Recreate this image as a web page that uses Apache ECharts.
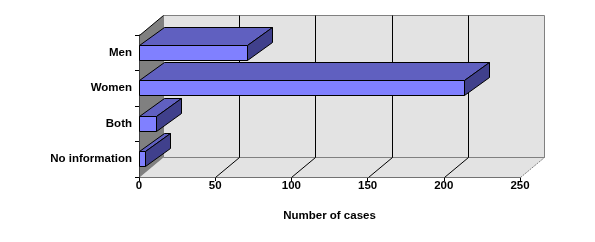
<!DOCTYPE html>
<html><head><meta charset="utf-8">
<script src="https://cdn.jsdelivr.net/npm/echarts@6/dist/echarts.min.js"></script>
<style>html,body{margin:0;padding:0;background:#fff}#c{width:595px;height:242px}</style>
</head><body><div id="c"></div>
<script>
const categories = ['Men', 'Women', 'Both', 'No information'];
const cases = [71, 213, 11, 4];
const xTicks = [0, 50, 100, 150, 200, 250];
const axisTitle = 'Number of cases';

const WALL_DX = 24, WALL_DY = -20;   // depth of the 3D box (px)
const BAR_DX = 25, BAR_DY = -18;     // depth of each bar (px)
const P = v => Math.round(v) + 0.5;
const font = 'Liberation Sans, Arial, sans-serif';
const FS = 11.5;

const chart = echarts.init(document.getElementById('c'), null, {renderer: 'canvas'});
chart.setOption({
  animation: false,
  backgroundColor: '#fff',
  grid: {left: 139, right: 75, top: 35, bottom: 65},
  xAxis: {
    type: 'value', min: xTicks[0], max: xTicks[xTicks.length - 1], interval: 50,
    splitLine: {show: false},
    axisLine: {show: true, lineStyle: {color: '#000', width: 1}},
    axisTick: {show: true, length: 4, lineStyle: {color: '#000'}},
    axisLabel: {color: '#000', fontFamily: font, fontWeight: 'bold', fontSize: FS, margin: 3},
    name: axisTitle, nameLocation: 'middle', nameGap: 33,
    nameTextStyle: {color: '#000', fontFamily: font, fontWeight: 'bold', fontSize: FS}
  },
  yAxis: {
    type: 'category', data: categories, inverse: true,
    axisLine: {show: true, lineStyle: {color: '#000', width: 1}},
    axisTick: {show: true, length: 4, lineStyle: {color: '#000'}},
    axisLabel: {color: '#000', fontFamily: font, fontWeight: 'bold', fontSize: FS, margin: 7},
    splitLine: {show: false}
  },
  series: [
    { // walls and floor
      type: 'custom', z: 1, silent: true,
      data: [[xTicks[0], 0]],
      renderItem: function (params, api) {
        const cs = params.coordSys;
        const x = P(cs.x), y = P(cs.y), w = Math.round(cs.width), h = Math.round(cs.height);
        const b = y + h;
        return {type: 'group', children: [
          {type: 'rect', shape: {x: x + WALL_DX, y: y + WALL_DY, width: w, height: h},
           style: {fill: '#e3e3e3', stroke: '#808080', lineWidth: 1}},
          {type: 'polygon', shape: {points: [[x, b], [x + WALL_DX, b + WALL_DY], [x + w + WALL_DX, b + WALL_DY], [x + w, b]]},
           style: {fill: '#e3e3e3', stroke: null}},
          {type: 'line', shape: {x1: x + WALL_DX, y1: b + WALL_DY, x2: x + w + WALL_DX, y2: b + WALL_DY},
           style: {stroke: '#808080', lineWidth: 1}},
          {type: 'line', shape: {x1: x + w, y1: b, x2: x + w + WALL_DX, y2: b + WALL_DY},
           style: {stroke: '#808080', lineWidth: 1, lineDash: [2, 1]}},
          {type: 'polygon', shape: {points: [[x, y], [x + WALL_DX, y + WALL_DY], [x + WALL_DX, b + WALL_DY], [x, b]]},
           style: {fill: '#808080', stroke: null}},
          {type: 'line', shape: {x1: x, y1: y, x2: x + WALL_DX, y2: y + WALL_DY},
           style: {stroke: '#000', lineWidth: 1}}
        ]};
      }
    },
    { // grid lines on floor and back wall
      type: 'custom', z: 2, silent: true,
      data: xTicks.slice(1, -1).map(v => [v, 0]),
      renderItem: function (params, api) {
        const cs = params.coordSys;
        const px = P(api.coord([api.value(0), 0])[0]);
        const top = P(cs.y), b = top + Math.round(cs.height);
        return {type: 'polyline', shape: {points: [[px, b], [px + WALL_DX, b + WALL_DY], [px + WALL_DX, top + WALL_DY]]},
                style: {stroke: '#000', lineWidth: 1, fill: null}};
      }
    },
    { // 3D bars
      type: 'custom', z: 3,
      encode: {x: 0, y: 1},
      data: cases.map((v, i) => [v, i]),
      renderItem: function (params, api) {
        const idx = api.value(1);
        const p0 = api.coord([0, idx]);
        const p1 = api.coord([api.value(0), idx]);
        const bh = Math.round(api.size([0, 1])[1] * 0.42);
        const x0 = P(p0[0]), x1 = P(p1[0]);
        const t = P(p0[1] - bh / 2 - 0.5), bt = t + bh;
        const st = {stroke: '#000', lineWidth: 1};
        return {type: 'group', children: [
          {type: 'polygon', shape: {points: [[x0, t], [x0 + BAR_DX, t + BAR_DY], [x1 + BAR_DX, t + BAR_DY], [x1, t]]},
           style: Object.assign({fill: '#6060c0'}, st)},
          {type: 'polygon', shape: {points: [[x1, t], [x1 + BAR_DX, t + BAR_DY], [x1 + BAR_DX, bt + BAR_DY], [x1, bt]]},
           style: Object.assign({fill: '#40408c'}, st)},
          {type: 'rect', shape: {x: x0, y: t, width: x1 - x0, height: bh},
           style: Object.assign({fill: '#8080ff'}, st)}
        ]};
      }
    }
  ]
});
</script></body></html>
